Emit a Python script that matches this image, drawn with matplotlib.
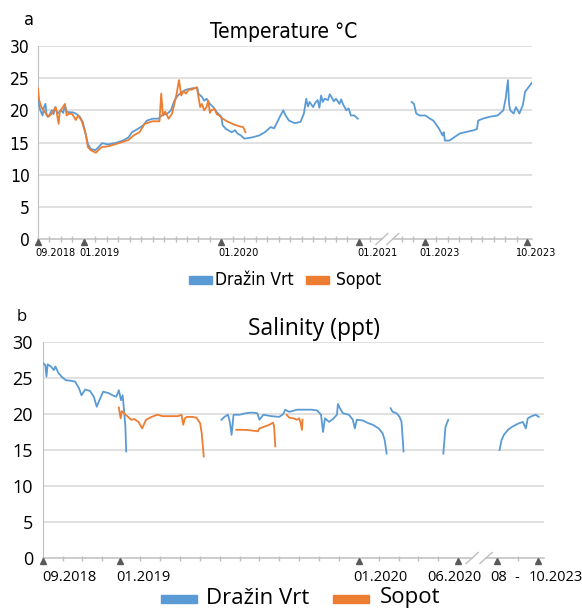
import matplotlib
matplotlib.use("Agg")
import matplotlib.pyplot as plt
from matplotlib import font_manager as fm
from matplotlib.patches import Rectangle

BLUE = "#5b9bd5"
ORANGE = "#ed7d31"
GRID = "#d9d9d9"
AXIS = "#bfbfbf"
CARET = "#595959"
OPEN = ["Open Sans", "DejaVu Sans"]

# narrow face for panel a (Calibri-like); take whatever condensed font is installed
narrow_file = None
for f in fm.fontManager.ttflist:
    if ("Narrow" in f.name or "Condensed" in f.name or f.stretch in ("condensed", "semi-condensed")) \
            and f.weight in (400, "normal", "regular") and f.style == "normal":
        narrow_file = f.fname
        break
NARROW_SCALE = 1.0 if narrow_file else 0.88


def narrow(size):
    if narrow_file:
        return fm.FontProperties(fname=narrow_file, size=size)
    return fm.FontProperties(family="Liberation Sans", size=size * NARROW_SCALE)


# x = months counted from 09.2018, the axis break squeezes the missing years
# ---------------- a: temperature (°C) ----------------
temp_dv1 = [(0, 21.6), (0.2, 20), (0.4, 19.2), (0.5, 20.4), (0.65, 21), (0.75, 19.3), (0.85, 19),
            (1.0, 19.3), (1.2, 20), (1.35, 19.4), (1.5, 20.5), (1.7, 19.5), (2.0, 20), (2.2, 19.6),
            (2.35, 20.8), (2.5, 19.8), (2.7, 19.7), (3.0, 19.7), (3.3, 19.5),
            (3.65, 19), (3.9, 18.2), (4.15, 16.4), (4.35, 14.8), (4.6, 14), (5.0, 13.8), (5.3, 14.3),
            (5.6, 14.9), (6.1, 14.7), (6.7, 14.9), (7.4, 15.3), (7.9, 15.8), (8.2, 16.6), (8.7, 17.1),
            (9.2, 17.7), (9.5, 18.4), (10.0, 18.7), (10.5, 18.7), (10.8, 19.2), (11.3, 19.5),
            (11.6, 20), (11.9, 21.5), (12.2, 22.3), (12.6, 22.9), (12.9, 23.2), (13.4, 23.4),
            (13.9, 23.5), (14.0, 22.6), (14.3, 22.1), (14.5, 21.5), (14.7, 21.8), (15.0, 21),
            (15.3, 20.5), (15.6, 19.7), (16.0, 19), (16.1, 17.7), (16.4, 17.1), (16.9, 16.6),
            (17.2, 16.9), (17.4, 16.4), (17.7, 16.1), (18.0, 15.6), (18.7, 15.8), (19.3, 16.1),
            (19.8, 16.6), (20.3, 17.4), (20.6, 17.2), (20.8, 17.9), (21.1, 19), (21.4, 20), (21.6, 19.2),
            (21.9, 18.4), (22.4, 18), (22.9, 18.2), (23.2, 19.5), (23.4, 21.8), (23.55, 20.6),
            (23.7, 21.3), (24.0, 20.5), (24.2, 21.2), (24.4, 21.6), (24.55, 20.4), (24.7, 22.3),
            (24.85, 21.3), (25.0, 21.8), (25.3, 21.6), (25.45, 22.5), (25.6, 22.1), (25.8, 21.4),
            (26.0, 21.8), (26.3, 21), (26.45, 21.7), (26.6, 21), (26.9, 20), (27.1, 20.3),
            (27.3, 19.2), (27.6, 19.2), (27.9, 18.7)]
temp_dv2 = [(32.6, 21.3), (32.8, 21), (33.0, 19.5), (33.3, 19.2), (33.8, 19.2), (34.2, 18.7),
            (34.5, 18.4), (34.7, 17.9), (35.0, 17.1), (35.3, 16.1), (35.4, 16.6), (35.5, 15.3),
            (35.9, 15.3), (36.3, 15.8), (36.8, 16.4), (37.5, 16.7), (38.0, 16.9), (38.3, 17.1),
            (38.4, 18.4), (38.8, 18.7), (39.4, 19), (40.1, 19.2), (40.6, 20), (40.8, 21.8),
            (41.0, 24.7), (41.1, 21), (41.2, 20), (41.5, 19.5), (41.7, 20.5), (42.0, 19.5),
            (42.3, 20.8), (42.5, 22.9), (42.8, 23.6), (43.1, 24.3)]
temp_sopot = [(0, 23.4), (0.1, 21.6), (0.3, 20.5), (0.6, 19.7), (0.9, 19), (1.2, 19.5), (1.55, 20.5),
              (1.8, 17.9), (1.9, 19.8), (2.1, 20.3), (2.35, 21), (2.5, 19.2), (2.7, 19.5), (3.0, 19.4),
              (3.3, 18.5), (3.5, 19.2), (3.8, 18.4), (4.15, 16.4), (4.35, 14.3), (4.6, 13.8),
              (5.05, 13.4), (5.3, 13.9), (5.6, 14.3), (6.1, 14.4), (6.7, 14.7), (7.4, 15.1),
              (7.9, 15.4), (8.35, 16.1), (8.85, 16.6), (9.3, 17.9), (10.0, 18.3), (10.6, 18.3),
              (10.75, 22.6), (10.9, 19.2), (11.1, 19.8), (11.4, 18.7), (11.7, 19.5), (12.1, 22.6),
              (12.3, 24.7), (12.5, 22.3), (12.7, 23.0), (12.9, 22.6), (13.2, 23.3), (13.4, 23.2),
              (13.85, 23.6), (14.0, 22.1), (14.15, 20.5), (14.3, 21), (14.5, 20.0), (14.7, 20.5),
              (14.85, 21.5), (15.0, 19.6), (15.1, 20), (15.4, 20.2), (15.6, 19.4), (15.8, 19.2),
              (16.1, 18.7), (16.6, 18.2), (17.1, 17.8), (17.6, 17.5), (17.9, 17.4), (18.1, 16.6)]
temp_ticks = [0, 4, 16, 28, 33.75, 42.7]
temp_labels = ["09.2018", "01.2019", "01.2020", "01.2021", "01.2023", "10.2023"]

# ---------------- b: salinity (ppt) ----------------
sal_dv1 = [(0, 27.1), (0.13, 26.8), (0.19, 25.2), (0.25, 26.9), (0.41, 26.6), (0.56, 26.1),
           (0.64, 26.6), (0.79, 25.7), (0.98, 25.1), (1.16, 24.7), (1.44, 24.6), (1.63, 24.5),
           (1.82, 23.6), (1.95, 22.6), (2.14, 23.4), (2.38, 23.2), (2.57, 22.4), (2.72, 21),
           (2.85, 21.9), (3.04, 23.1), (3.32, 22.9), (3.51, 22.6), (3.7, 22.4), (3.83, 23.3),
           (3.94, 21.9), (4.02, 22.6), (4.09, 20.6), (4.16, 18.2), (4.2, 14.8)]
sal_dv2 = [(8.99, 19.2), (9.14, 19.6), (9.32, 19.9), (9.42, 18.8), (9.5, 17.1), (9.6, 19.9),
           (9.9, 19.9), (10.2, 20.1), (10.5, 20.2), (10.8, 20.1), (10.9, 19.2), (11.1, 19.9),
           (11.5, 19.7), (11.9, 19.6), (12.1, 20), (12.2, 20.6), (12.4, 20.3), (12.8, 20.6),
           (13.2, 20.6), (13.5, 20.6), (13.8, 20.5), (14.0, 19.9), (14.1, 17.5), (14.2, 19.4),
           (14.4, 18.9), (14.6, 19.3), (14.8, 19.9), (14.85, 21.4), (14.95, 20.8), (15.1, 20.1),
           (15.4, 19.9), (15.6, 19.2), (15.7, 18), (15.8, 19.2), (16.1, 19.1), (16.4, 18.7),
           (16.6, 18.5), (16.9, 18), (17.1, 17.3), (17.2, 16.4), (17.3, 14.5)]
sal_dv3 = [(17.5, 20.8), (17.6, 20.3), (17.8, 20.1), (17.95, 19.6), (18.05, 18.9), (18.15, 14.8)]
sal_dv4 = [(20.15, 14.5), (20.26, 18.2), (20.4, 19.2)]
sal_dv5 = [(22.98, 15), (23.08, 16.4), (23.2, 17.1), (23.4, 17.8), (23.6, 18.2), (23.8, 18.5),
           (23.95, 18.7), (24.15, 18.9), (24.3, 18), (24.4, 19.4), (24.6, 19.7), (24.8, 19.9),
           (24.95, 19.6)]
sal_sopot1 = [(3.83, 20.9), (3.92, 19.4), (3.98, 20.4), (4.16, 19.9), (4.3, 19.6), (4.45, 19.2),
              (4.6, 19.3), (4.82, 18.9), (5.0, 18), (5.2, 19.2), (5.48, 19.6), (5.76, 19.9),
              (6.04, 19.7), (6.42, 19.7), (6.8, 19.7), (6.98, 19.9), (7.07, 18.5), (7.15, 19.4),
              (7.26, 19.6), (7.5, 19.6), (7.73, 19.5), (7.92, 18.7), (8.0, 17.3), (8.1, 14.1)]
sal_sopot2 = [(9.74, 17.8), (10.2, 17.8), (10.54, 17.7), (10.83, 17.6), (10.9, 18), (11.2, 18.3),
              (11.4, 18.5), (11.58, 18.8), (11.64, 18.3), (11.7, 15.5)]
sal_sopot3 = [(12.27, 19.9), (12.4, 19.5), (12.6, 19.4), (12.8, 19.2), (12.9, 19.4), (12.98, 18.7),
              (13.04, 17.8), (13.07, 19.2)]
sal_ticks = [0, 3.9, 15.9, 20.9, 22.85, 24.9]

W, H = 582, 608
fig = plt.figure(figsize=(W / 100, H / 100), dpi=100)


def fx(px):
    return px / W


def fy(py):
    return 1 - py / H


def draw_segments(ax, segs, color):
    for s in segs:
        ax.plot([p[0] for p in s], [p[1] for p in s], color=color, lw=1.3,
                solid_joinstyle="round", zorder=3)


def setup_axis(ax, xmax, brk, minor, ticks, px_per_unit, pad):
    ax.set_xlim(0, xmax)
    ax.set_ylim(0, 30)
    for s in ["top", "right", "bottom"]:
        ax.spines[s].set_visible(False)
    ax.spines["left"].set_color(AXIS)
    ax.set_xticks([])
    ax.set_yticks(range(0, 31, 5))
    ax.tick_params(axis="y", length=0, pad=pad)
    for v in range(5, 31, 5):
        ax.axhline(v, color=GRID, lw=1.1, zorder=0)
    # broken x axis line
    ax.plot([0, brk[0]], [0, 0], color=AXIS, lw=1.1, clip_on=False, zorder=1)
    ax.plot([brk[1], xmax], [0, 0], color=AXIS, lw=1.1, clip_on=False, zorder=1)
    dy = 5.5 / px_per_unit
    dx = 0.012 * xmax
    for b in brk:
        ax.plot([b - dx, b + dx], [-dy, dy], color=AXIS, lw=1.0, clip_on=False)
    t = 2.5 / px_per_unit
    ax.vlines(minor, -t, t, color=AXIS, lw=1.0, clip_on=False)
    ax.plot(ticks, [-2.6 / px_per_unit] * len(ticks), ls="none", marker="^", ms=4,
            color=CARET, clip_on=False, zorder=4)


# ---------- panel a ----------
axa = fig.add_axes([fx(38), fy(239), fx(494), 193 / H])
draw_segments(axa, [temp_dv1, temp_dv2], BLUE)
draw_segments(axa, [temp_sopot], ORANGE)
minor_a = [m for m in range(1, 30) if m not in (4, 16, 28)] + \
          [33.75 + k for k in range(-2, 9) if k != 0]
setup_axis(axa, 43.1, (30.0, 30.95), minor_a, temp_ticks, 6.43, 6)
for lab in axa.get_yticklabels():
    lab.set_fontproperties(narrow(12.5))
offs_a = [-3, -4, -3, -2, -5, -11]
for pos, lab, off in zip(temp_ticks, temp_labels, offs_a):
    axa.annotate(lab, xy=(pos, 0), xytext=(off, -9), textcoords="offset pixels",
                 ha="left", va="top", fontproperties=narrow(7.8), annotation_clip=False)

fig.text(fx(284), fy(37.5), "Temperature °C", ha="center", va="baseline",
         fontproperties=narrow(15))
fig.text(fx(24), fy(25), "a", ha="left", va="baseline", fontproperties=narrow(13))

fig.add_artist(Rectangle((fx(189), fy(284)), fx(23), 8 / H, color=BLUE,
                         transform=fig.transFigure))
fig.text(fx(215), fy(280), "Dražin Vrt", ha="left", va="center", fontproperties=narrow(12.5))
fig.add_artist(Rectangle((fx(306), fy(284)), fx(23), 8 / H, color=ORANGE,
                         transform=fig.transFigure))
fig.text(fx(336), fy(280), "Sopot", ha="left", va="center", fontproperties=narrow(12.5))

# ---------- panel b ----------
axb = fig.add_axes([fx(42.7), fy(558), fx(501), 216 / H])
draw_segments(axb, [sal_dv1, sal_dv2, sal_dv3, sal_dv4, sal_dv5], BLUE)
draw_segments(axb, [sal_sopot1, sal_sopot2, sal_sopot3], ORANGE)
minor_b = [1, 2, 3] + [3.9 + k for k in range(1, 12)] + [15.9 + k for k in range(1, 5)] + [23.9]
setup_axis(axb, 25.2, (21.6, 22.3), minor_b, sal_ticks, 7.2, 7)
for lab in axb.get_yticklabels():
    lab.set_family(OPEN)
    lab.set_fontsize(13)
sal_text = [(0, "09.2018", "left", 0), (3.9, "01.2019", "left", -4), (15.9, "01.2020", "left", -6),
            (20.9, "06.2020", "center", -4), (22.85, "08", "center", 2), (23.83, "-", "center", 0),
            (24.9, "10.2023", "left", -9)]
for pos, lab, ha, off in sal_text:
    axb.annotate(lab, xy=(pos, 0), xytext=(off, -12), textcoords="offset pixels",
                 ha=ha, va="top", fontsize=10.5, family=OPEN, annotation_clip=False)

fig.text(fx(314), fy(335), "Salinity (ppt)", ha="center", va="baseline",
         fontsize=16.5, family=OPEN)
fig.text(fx(17), fy(321), "b", ha="left", va="baseline", fontsize=12, family=OPEN)

fig.add_artist(Rectangle((fx(161), fy(603)), fx(36), 8 / H, color=BLUE,
                         transform=fig.transFigure))
fig.text(fx(206), fy(598), "Dražin Vrt", ha="left", va="center", fontsize=16, family=OPEN)
fig.add_artist(Rectangle((fx(333), fy(603)), fx(36), 8 / H, color=ORANGE,
                         transform=fig.transFigure))
fig.text(fx(380), fy(598), "Sopot", ha="left", va="center", fontsize=16, family=OPEN)

fig.savefig("out.png", dpi=100)
